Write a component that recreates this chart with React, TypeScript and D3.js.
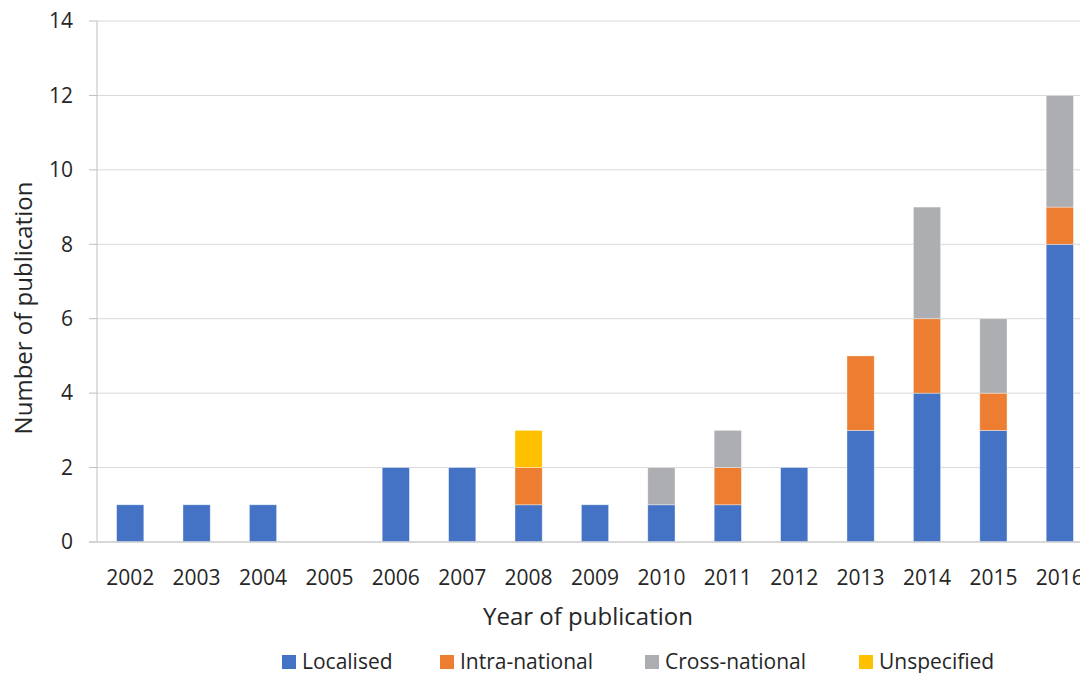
import * as d3 from 'd3';

const years = ['2002', '2003', '2004', '2005', '2006', '2007', '2008', '2009', '2010', '2011', '2012', '2013', '2014', '2015', '2016'];
const localised = [1, 1, 1, 0, 2, 2, 1, 1, 1, 1, 2, 3, 4, 3, 8];
const intraNational = [0, 0, 0, 0, 0, 0, 1, 0, 0, 1, 0, 2, 2, 1, 1];
const crossNational = [0, 0, 0, 0, 0, 0, 0, 0, 1, 1, 0, 0, 3, 2, 3];
const unspecified = [0, 0, 0, 0, 0, 0, 1, 0, 0, 0, 0, 0, 0, 0, 0];
const seriesNames = ['Localised', 'Intra-national', 'Cross-national', 'Unspecified'];
const seriesColors = ['#4472C4', '#ED7D31', '#ADAEB1', '#FFC000'];
const yTicks = [0, 2, 4, 6, 8, 10, 12, 14];

const width = 1080;
const height = 673;
const left = 97;
const top = 21;
const bottom = 542;
const font = '"Open Sans", sans-serif';
const textColor = '#262626';

export default function App() {
  const rows = years.map((year, i) => ({
    year,
    Localised: localised[i],
    'Intra-national': intraNational[i],
    'Cross-national': crossNational[i],
    Unspecified: unspecified[i],
  }));
  const stacked = d3.stack<any>().keys(seriesNames)(rows);

  const x = d3.scaleBand().domain(years).range([left, left + 66.4 * years.length]).paddingInner(0.59).paddingOuter(0.295);
  const y = d3.scaleLinear().domain([0, 14]).range([bottom, top]);

  const legendX = [282, 440, 645, 859];

  return (
    <div style={{ position: 'absolute', left: 0, top: 0 }}>
      <svg width={width} height={height} style={{ display: 'block', background: '#fff' }}>
        {yTicks.map((t) => (
          <g key={t}>
            <line x1={left} x2={width} y1={y(t)} y2={y(t)} stroke="#D9D9D9" strokeWidth={1} />
            <line x1={89} x2={left} y1={y(t)} y2={y(t)} stroke="#BFBFBF" strokeWidth={1} />
            <text x={73} y={y(t)} dy="0.35em" textAnchor="end" fontFamily={font} fontSize={21} fill={textColor}>
              {t}
            </text>
          </g>
        ))}
        <line x1={left} x2={left} y1={top} y2={bottom} stroke="#BFBFBF" strokeWidth={1} />
        {stacked.map((s, si) => (
          <g key={s.key} fill={seriesColors[si]}>
            {s.map((d, i) =>
              d[1] - d[0] > 0 ? (
                <rect
                  key={i}
                  x={x(years[i])}
                  width={x.bandwidth()}
                  y={y(d[1])}
                  height={y(d[0]) - y(d[1])}
                  stroke="#ffffff"
                  strokeOpacity={0.5}
                  strokeWidth={0.75}
                />
              ) : null
            )}
          </g>
        ))}
        <line x1={89} x2={width} y1={bottom} y2={bottom} stroke="#D0D0D0" strokeWidth={1.5} />
        {years.map((yr) => (
          <text key={yr} x={(x(yr) as number) + x.bandwidth() / 2} y={585} textAnchor="middle" fontFamily={font} fontSize={21} fill={textColor}>
            {yr}
          </text>
        ))}
        <text x={588} y={625} textAnchor="middle" fontFamily={font} fontSize={24} fill={textColor}>
          Year of publication
        </text>
        <text transform="translate(32,308) rotate(-90)" textAnchor="middle" fontFamily={font} fontSize={24} fill={textColor}>
          Number of publication
        </text>
        {seriesNames.map((name, i) => (
          <g key={name}>
            <rect x={legendX[i]} y={655} width={14} height={14} fill={seriesColors[i]} />
            <text x={legendX[i] + 20} y={669} fontFamily={font} fontSize={21} fill={textColor}>
              {name}
            </text>
          </g>
        ))}
      </svg>
    </div>
  );
}
